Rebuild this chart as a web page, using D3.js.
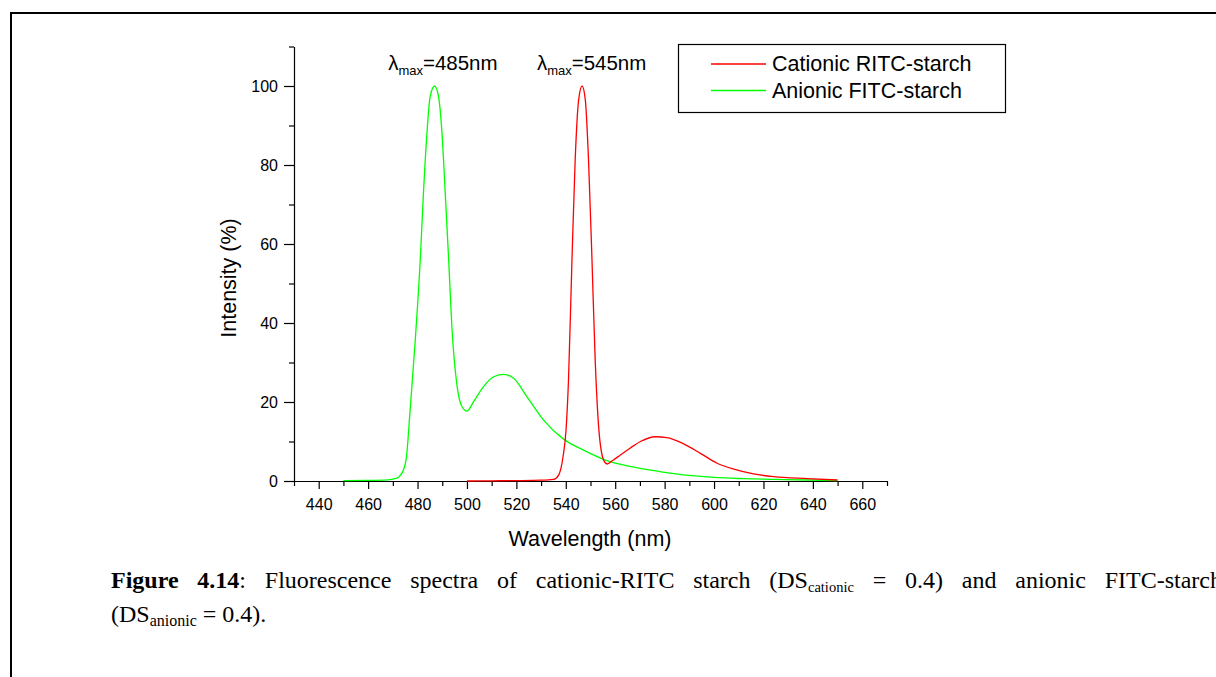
<!DOCTYPE html>
<html>
<head>
<meta charset="utf-8">
<script src="https://cdn.jsdelivr.net/npm/d3@7"></script>
<style>
  html, body { margin: 0; padding: 0; background: #fff; }
  svg { display: block; }
  .sans { font-family: "Liberation Sans", Arial, sans-serif; }
  .serif { font-family: "Liberation Serif", "Times New Roman", serif; }
</style>
</head>
<body>
<svg id="chart" width="1216" height="677"></svg>
<script>
// Cationic RITC-starch emission spectrum (wavelength nm, intensity %)
const cationicWavelength = [500, 510, 520, 530, 535, 537.1, 538.9, 540.1, 541.1, 542.5, 543.8, 545.2, 546.6,
  547.9, 549.2, 550.6, 551.9, 553.3, 555.3, 556.7, 559, 562.1, 566, 570.2, 576.2, 580.9, 587.7, 594.5,
  601.2, 608, 616, 624.1, 637.7, 650];
const cationicIntensity = [0, 0.05, 0.1, 0.2, 0.4, 1.5, 6.2, 12.9, 25.6, 56, 81.3, 96.5, 100,
  96.5, 81.3, 56, 30.6, 13.7, 5.3, 4.3, 5.2, 6.6, 8.3, 10, 11.2, 11, 9.4, 7,
  4.5, 3, 1.8, 1.1, 0.6, 0.25];

// Anionic FITC-starch emission spectrum
const anionicWavelength = [450, 460, 468, 471.7, 473, 474.3, 475.5, 477, 479, 481.1, 482.4, 483.8, 485.1, 486.9,
  488.5, 489.9, 491.2, 492.6, 493.9, 496, 498, 500, 502.7, 506.7, 510.8, 514.8, 518.9, 524.3, 531,
  539.1, 547.2, 556, 566, 578, 590, 600, 612, 625, 638, 650];
const anionicIntensity = [0.1, 0.15, 0.3, 0.7, 1.4, 2.8, 6, 18, 35, 56, 73, 88, 97.3, 100,
  97.3, 88, 73, 56, 39, 24, 18.8, 17.7, 20.1, 23.9, 26.4, 27, 26, 21.3, 15.4,
  10.6, 7.8, 5.3, 3.7, 2.4, 1.4, 0.9, 0.6, 0.4, 0.25, 0.1];

const seriesNames = ["Cationic RITC-starch", "Anionic FITC-starch"];
const seriesColors = ["#ff0000", "#00ff00"];

const xMajorTicks = [440, 460, 480, 500, 520, 540, 560, 580, 600, 620, 640, 660];
const xMinorTicks = [430, 450, 470, 490, 510, 530, 550, 570, 590, 610, 630, 650, 670];
const yMajorTicks = [0, 20, 40, 60, 80, 100];
const yMinorTicks = [10, 30, 50, 70, 90, 110];

// peak labels, anchored (left edge) at a wavelength on the x scale
const peakLabels = [
  { sub: "max", value: "=485nm", at: 468.1 },
  { sub: "max", value: "=545nm", at: 528.3 }
];

const svg = d3.select("#chart");

// page frame
svg.append("path")
  .attr("d", "M11,677 V13 H1216")
  .attr("fill", "none").attr("stroke", "#000").attr("stroke-width", 2);

const x = d3.scaleLinear().domain([430, 670]).range([294, 887]);
const y = d3.scaleLinear().domain([0, 110]).range([481, 46.5]);

// axes
function styleAxis(g) {
  g.selectAll("path.domain").attr("stroke", "#000").attr("stroke-width", 1.2);
  g.selectAll(".tick line").attr("stroke", "#000").attr("stroke-width", 1.2);
  g.selectAll("text").attr("class", "sans").attr("font-size", 16).attr("fill", "#000");
}

svg.append("g").attr("transform", `translate(0,${y(0)})`)
  .call(d3.axisBottom(x).tickValues(xMinorTicks).tickSize(5).tickSizeOuter(0).tickFormat(""))
  .call(styleAxis);
svg.append("g").attr("transform", `translate(0,${y(0)})`)
  .call(d3.axisBottom(x).tickValues(xMajorTicks).tickSize(8).tickSizeOuter(0).tickPadding(10))
  .call(styleAxis)
  .call(g => g.select("path.domain").remove());

svg.append("g").attr("transform", `translate(${x(430)},0)`)
  .call(d3.axisLeft(y).tickValues(yMinorTicks).tickSize(5).tickSizeOuter(0).tickFormat(""))
  .call(styleAxis);
svg.append("g").attr("transform", `translate(${x(430)},0)`)
  .call(d3.axisLeft(y).tickValues(yMajorTicks).tickSize(10).tickSizeOuter(0).tickPadding(6))
  .call(styleAxis)
  .call(g => g.select("path.domain").remove());

// axis titles
svg.append("text").attr("class", "sans")
  .attr("x", 590).attr("y", 546).attr("text-anchor", "middle")
  .attr("font-size", 21.5).text("Wavelength (nm)");
svg.append("text").attr("class", "sans")
  .attr("transform", "translate(236,278) rotate(-90)")
  .attr("text-anchor", "middle").attr("font-size", 21.5).text("Intensity (%)");

// spectra
const line = d3.line().x(d => x(d[0])).y(d => y(d[1])).curve(d3.curveMonotoneX);
const anionic = anionicWavelength.map((w, i) => [w, anionicIntensity[i]]);
const cationic = cationicWavelength.map((w, i) => [w, cationicIntensity[i]]);

svg.append("path").datum(anionic).attr("d", line)
  .attr("fill", "none").attr("stroke", seriesColors[1]).attr("stroke-width", 1.3);
svg.append("path").datum(cationic).attr("d", line)
  .attr("fill", "none").attr("stroke", seriesColors[0]).attr("stroke-width", 1.3);

// peak annotations
peakLabels.forEach(p => {
  const t = svg.append("text").attr("class", "sans")
    .attr("x", x(p.at)).attr("y", 70).attr("font-size", 20.5);
  t.append("tspan").text("λ");
  t.append("tspan").attr("font-size", 13).attr("dy", 5).text(p.sub);
  t.append("tspan").attr("dy", -5).text(p.value);
});

// legend
const legend = svg.append("g");
legend.append("rect").attr("x", 678.5).attr("y", 44.5).attr("width", 327).attr("height", 68)
  .attr("fill", "#fff").attr("stroke", "#000").attr("stroke-width", 1.2);
seriesNames.forEach((name, i) => {
  const yy = 64 + i * 26.5;
  legend.append("line").attr("x1", 711).attr("x2", 766).attr("y1", yy).attr("y2", yy)
    .attr("stroke", seriesColors[i]).attr("stroke-width", 1.3);
  legend.append("text").attr("class", "sans")
    .attr("x", 772).attr("y", yy + 7).attr("font-size", 21.5).text(name);
});

// caption: first line is justified across the page
const captionWords = [
  [{ t: "Figure", b: true }],
  [{ t: "4.14", b: true }, { t: ":" }],
  [{ t: "Fluorescence" }],
  [{ t: "spectra" }],
  [{ t: "of" }],
  [{ t: "cationic-RITC" }],
  [{ t: "starch" }],
  [{ t: "(DS" }, { t: "cationic", sub: true }],
  [{ t: "=" }],
  [{ t: "0.4)" }],
  [{ t: "and" }],
  [{ t: "anionic" }],
  [{ t: "FITC-starch" }]
];
const captionLine2 = [{ t: "(DS" }, { t: "anionic", sub: true }, { t: " = 0.4)." }];

function writeWord(parts, xPos, yPos, subSize) {
  const t = svg.append("text").attr("class", "serif")
    .attr("x", xPos).attr("y", yPos).attr("font-size", 24).attr("fill", "#000");
  let shifted = false;
  parts.forEach(p => {
    const s = t.append("tspan").text(p.t);
    if (p.b) s.attr("font-weight", "bold");
    if (p.sub) { s.attr("font-size", subSize).attr("dy", 4); shifted = true; }
    else if (shifted) { s.attr("dy", -4); shifted = false; }
  });
  return t;
}

const lineStart = 111, lineEnd = 1222;
const nodes = captionWords.map(w => writeWord(w, 0, 588, 14.5));
const widths = nodes.map(n => n.node().getComputedTextLength());
const gap = (lineEnd - lineStart - d3.sum(widths)) / (nodes.length - 1);
let cx = lineStart;
nodes.forEach((n, i) => { n.attr("x", cx); cx += widths[i] + gap; });

writeWord(captionLine2, lineStart, 622, 16);
</script>
</body>
</html>
